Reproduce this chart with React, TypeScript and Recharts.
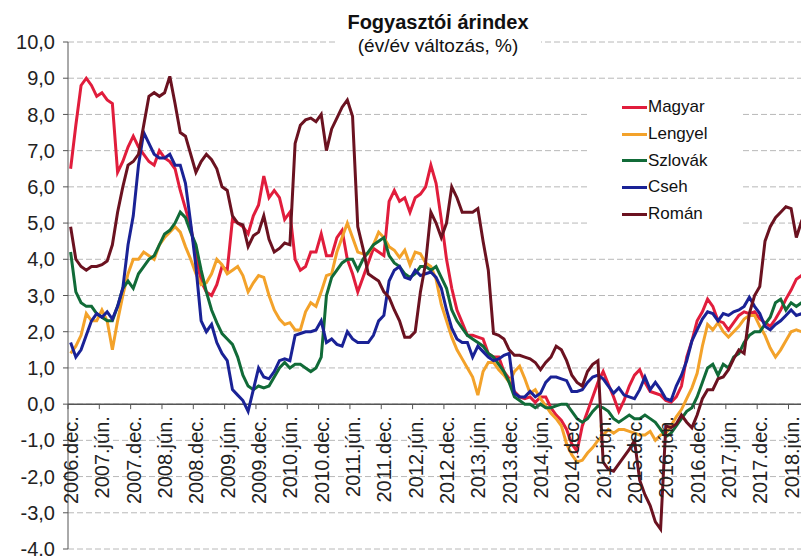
import React from 'react';
import { LineChart, Line, XAxis, YAxis, CartesianGrid, ReferenceLine } from 'recharts';

// monthly y/y CPI, 2006 Dec .. 2018 Oct (143 months)
const MAGYAR = [
  6.5, 7.7, 8.8, 9.0, 8.8, 8.5, 8.6, 8.4, 8.3, 6.4,
  6.7, 7.1, 7.4, 7.1, 6.9, 6.7, 6.6, 7.0, 6.8, 6.7,
  6.5, 5.9, 5.4, 4.9, 4.1, 3.4, 3.1, 3.0, 3.3, 3.8,
  3.7, 5.1, 5.0, 4.9, 4.7, 5.2, 5.5, 6.3, 5.7, 5.9,
  5.7, 5.1, 5.3, 4.0, 3.7, 3.8, 4.2, 4.2, 4.7, 4.1,
  4.1, 4.6, 4.8, 4.0, 3.6, 3.1, 3.5, 3.9, 4.3, 4.2,
  4.1, 5.6, 5.9, 5.6, 5.7, 5.3, 5.7, 5.8, 6.0, 6.6,
  6.1, 5.1, 4.0, 3.2, 2.6, 2.25, 1.9, 1.9, 1.85, 1.8,
  1.4, 1.3, 1.3, 0.9, 0.7, 0.35, 0.2, 0.15, 0.2, 0.05,
  0.2, 0.2, -0.1, -0.3, -0.45, -0.7, -1.1, -1.3, -0.6, -0.2,
  0.2, 0.6, 0.9, 0.55, 0.2, -0.2, 0.1, 0.5, 0.8, 0.95,
  0.6, 0.35, 0.3, 0.25, 0.1, 0.05, 0.2, 0.5, 1.3, 1.75,
  2.3, 2.55, 2.9, 2.7, 2.3, 2.25, 2.05, 2.25, 2.45, 2.55,
  2.5, 2.55, 2.35, 2.25, 2.15, 2.35, 2.6, 2.9, 3.15, 3.45,
  3.55, 3.7, 3.8,
];

const LENGYEL = [
  1.4, 1.6, 1.9, 2.5, 2.3, 2.3, 2.6, 2.3, 1.5, 2.3,
  3.0, 3.6, 4.0, 4.0, 4.2, 4.1, 4.0, 4.4, 4.6, 4.75,
  4.9, 4.75, 4.35, 4.0, 3.6, 3.3, 3.35, 3.6, 4.0, 3.85,
  3.6, 3.7, 3.8, 3.55, 3.1, 3.35, 3.55, 3.5, 3.0, 2.6,
  2.35, 2.2, 2.25, 2.05, 2.05, 2.55, 2.8, 2.7, 3.1, 3.55,
  3.6, 4.2, 4.6, 5.0, 4.6, 4.2, 4.15, 4.15, 4.4, 4.75,
  4.6, 4.35, 4.25, 4.05, 4.25, 3.85, 4.2, 4.15, 3.9, 3.8,
  3.45, 2.75, 2.3, 1.85, 1.5, 1.25, 1.0, 0.75, 0.25, 0.9,
  1.15, 1.15, 0.95, 0.8, 0.6, 0.9, 1.05, 0.7, 0.3, 0.4,
  0.15, -0.05, -0.25, -0.4, -0.6, -1.1, -1.4, -1.6, -1.55, -1.35,
  -1.2, -1.0, -0.85, -0.7, -0.8, -0.7, -0.7, -0.75, -0.8, -0.85,
  -0.85, -0.75, -1.0, -0.85, -0.8, -0.6, -0.35, -0.15, 0.15, 0.45,
  0.85, 1.6, 2.2, 2.05, 2.25, 2.0, 1.85, 2.0, 2.15, 2.35,
  2.45, 2.45, 2.15, 1.9, 1.55, 1.3, 1.5, 1.75, 2.0, 2.05,
  2.0, 1.9, 1.85,
];

const SZLOVAK = [
  4.2, 3.1, 2.8, 2.7, 2.7, 2.5, 2.4, 2.3, 2.3, 2.7,
  3.2, 3.4, 3.2, 3.6, 3.8, 4.0, 4.1, 4.4, 4.7, 4.8,
  5.0, 5.3, 5.15, 4.75, 4.4, 3.7, 3.1, 2.6, 2.25, 1.95,
  1.8, 1.65, 1.3, 0.8, 0.5, 0.4, 0.5, 0.45, 0.5, 0.75,
  1.0, 1.15, 1.0, 1.1, 1.1, 1.0, 0.9, 1.0, 1.3, 3.0,
  3.5, 3.7, 3.9, 4.0, 4.0, 3.7, 4.0, 4.2, 4.4, 4.5,
  4.6, 4.1, 3.9, 3.8, 3.6, 3.5, 3.6, 3.8, 3.8, 3.7,
  3.8, 3.5, 3.2, 2.6, 2.3, 2.1, 1.9, 1.8, 1.7, 1.6,
  1.4, 1.3, 1.1, 0.9, 0.6, 0.2, 0.1, 0.0, 0.0, -0.1,
  0.0, -0.1, -0.1, -0.05, 0.0, 0.0, -0.2, -0.4, -0.5, -0.4,
  -0.2, -0.05, -0.1, -0.2, -0.4, -0.5, -0.4, -0.3, -0.4, -0.4,
  -0.3, -0.4, -0.5, -0.7, -0.9, -0.8, -0.6, -0.4, -0.2, -0.1,
  0.2, 0.6, 1.0, 1.1, 0.8, 1.1, 1.0, 1.3, 1.4, 1.7,
  1.9, 2.0, 2.0, 2.2, 2.4, 2.8, 2.9, 2.6, 2.8, 2.7,
  2.8, 2.7, 2.55,
];

const CSEH = [
  1.7, 1.3, 1.5, 1.9, 2.3, 2.5, 2.4, 2.55, 2.35, 2.7,
  3.2, 4.4, 5.2, 6.6, 7.5, 7.2, 6.9, 6.8, 6.8, 6.9,
  6.6, 6.6, 6.1, 5.0, 3.8, 2.3, 2.0, 2.2, 1.7, 1.4,
  1.2, 0.4, 0.25, 0.1, -0.2, 0.4, 1.0, 0.75, 0.7, 0.9,
  1.2, 1.25, 1.2, 1.9, 1.95, 2.0, 2.0, 2.05, 2.3, 1.7,
  1.8, 1.65, 1.6, 2.0, 1.8, 1.7, 1.7, 1.7, 1.9, 2.3,
  2.45, 3.4, 3.7, 3.8, 3.5, 3.45, 3.7, 3.55, 3.6, 3.65,
  3.5, 3.2, 2.6, 2.1, 1.8, 1.7, 1.7, 1.3, 1.6, 1.45,
  1.3, 1.2, 1.25, 1.35, 1.4, 0.3, 0.2, 0.2, 0.35, 0.2,
  0.3, 0.6, 0.75, 0.75, 0.7, 0.65, 0.35, 0.35, 0.4, 0.6,
  0.75, 0.8, 0.7, 0.5, 0.3, 0.45, 0.25, 0.2, 0.15, 0.4,
  0.75, 0.4, 0.6, 0.4, 0.15, 0.1, 0.5, 0.8, 1.2, 1.75,
  2.05, 2.35, 2.55, 2.5, 2.3, 2.5, 2.45, 2.55, 2.6, 2.7,
  2.95, 2.7, 2.5, 2.15, 2.05, 2.2, 2.3, 2.45, 2.6, 2.45,
  2.5, 2.4, 2.3,
];

const ROMAN = [
  4.9, 4.0, 3.8, 3.7, 3.8, 3.8, 3.85, 3.95, 4.4, 5.3,
  6.0, 6.6, 6.7, 6.9, 7.7, 8.5, 8.6, 8.5, 8.6, 9.05,
  8.3, 7.5, 7.4, 6.9, 6.4, 6.7, 6.9, 6.75, 6.5, 6.0,
  5.9, 5.2, 5.0, 4.95, 4.35, 4.65, 4.75, 5.2, 4.55, 4.2,
  4.3, 4.45, 4.4, 7.2, 7.7, 7.85, 7.9, 7.8, 8.0, 7.0,
  7.6, 7.9, 8.2, 8.4, 7.95, 4.9, 4.3, 3.6, 3.5, 3.4,
  3.1, 2.95, 2.6, 2.3, 1.85, 1.85, 2.0, 3.1, 3.9, 5.3,
  5.0, 4.6, 5.0, 6.0, 5.7, 5.3, 5.3, 5.3, 5.4, 4.5,
  3.7, 1.95, 1.9, 1.8, 1.5, 1.35, 1.35, 1.3, 1.25, 1.15,
  0.95, 1.15, 1.3, 1.6, 1.5, 1.2, 0.8, 0.6, 0.5, 0.9,
  1.1, 1.2, -1.6, -1.8, -1.85, -1.65, -1.45, -1.25, -1.0, -2.1,
  -2.5, -2.8, -3.25, -3.45, -0.6, -0.65, -0.55, -0.3, -0.5, -0.65,
  -0.3, 0.15, 0.4, 0.4, 0.7, 0.75, 0.95, 1.25, 1.5, 1.4,
  2.5, 3.0, 3.25, 4.5, 4.9, 5.15, 5.3, 5.45, 5.4, 4.6,
  5.05, 5.0, 4.5,
];

const X_TICK_LABELS = [
  '2006.dec.', '2007.jún.', '2007.dec.', '2008.jún.', '2008.dec.', '2009.jún.',
  '2009.dec.', '2010.jún.', '2010.dec.', '2011.jún.', '2011.dec.', '2012.jún.',
  '2012.dec.', '2013.jún.', '2013.dec.', '2014.jún.', '2014.dec.', '2015.jún.',
  '2015.dec.', '2016.jún.', '2016.dec.', '2017.jún.', '2017.dec.', '2018.jún.',
];

const Y_TICKS = [-4, -3, -2, -1, 0, 1, 2, 3, 4, 5, 6, 7, 8, 9, 10];

const SERIES = [
  { key: 'magyar', name: 'Magyar', color: '#e11d3c', values: MAGYAR },
  { key: 'lengyel', name: 'Lengyel', color: '#f3a22a', values: LENGYEL },
  { key: 'szlovak', name: 'Szlovák', color: '#116b38', values: SZLOVAK },
  { key: 'cseh', name: 'Cseh', color: '#1a2296', values: CSEH },
  { key: 'roman', name: 'Román', color: '#6b1220', values: ROMAN },
];

const data = MAGYAR.map((_, i) => {
  const row: Record<string, number> = { i };
  SERIES.forEach((s) => {
    row[s.key] = s.values[i];
  });
  return row;
});

// category boundaries every 6 months, labels sit on them
const xTicks = X_TICK_LABELS.map((_, k) => k * 6 - 0.5);

const FONT = 'Arial, "Liberation Sans", Helvetica, sans-serif';
const TOP = 34;
const PLOT_H = 507;
const ZERO_Y = TOP + (PLOT_H * 10) / 14;

const XTick = (props: any) => {
  const { x, payload } = props;
  const label = X_TICK_LABELS[Math.round((payload.value + 0.5) / 6)];
  const tx = x + 10;
  const ty = ZERO_Y + 12;
  return (
    <g>
      <line x1={x} y1={ZERO_Y} x2={x} y2={ZERO_Y + 5} stroke="#555" />
      <text
        x={tx}
        y={ty}
        transform={`rotate(-90 ${tx} ${ty})`}
        textAnchor="end"
        fontSize={20}
        fill="#222"
        fontFamily={FONT}
      >
        {label}
      </text>
    </g>
  );
};

const App = () => {
  return (
    <div style={{ position: 'relative', width: 801, height: 548, overflow: 'hidden', background: '#fff' }}>
      <LineChart width={804} height={548} data={data} margin={{ top: TOP, right: 0, bottom: 0, left: 0 }}>
        <CartesianGrid vertical={false} stroke="#b8b8b8" strokeDasharray="6 3" />
        <XAxis
          dataKey="i"
          type="number"
          domain={[-0.5, 142]}
          ticks={xTicks}
          interval={0}
          axisLine={false}
          tickLine={false}
          height={7}
          tick={<XTick />}
        />
        <YAxis
          type="number"
          domain={[-4, 10]}
          ticks={Y_TICKS}
          interval={0}
          width={60}
          tickSize={5}
          tickMargin={8}
          axisLine={{ stroke: '#555' }}
          tickLine={{ stroke: '#555' }}
          tickFormatter={(v: number) => v.toFixed(1).replace('.', ',')}
          tick={{ fontSize: 20, fill: '#222', fontFamily: FONT }}
        />
        <ReferenceLine y={0} stroke="#555" strokeWidth={1.5} />
        {SERIES.map((s) => (
          <Line
            key={s.key}
            type="linear"
            dataKey={s.key}
            name={s.name}
            stroke={s.color}
            strokeWidth={3}
            dot={false}
            isAnimationActive={false}
          />
        ))}
      </LineChart>

      <div
        style={{
          position: 'absolute',
          left: 327,
          top: 3,
          width: 206,
          background: '#fff',
          textAlign: 'center',
          fontFamily: FONT,
          color: '#111',
        }}
      >
        <div style={{ fontSize: 20, fontWeight: 'bold', lineHeight: '23px' }}>Fogyasztói árindex</div>
        <div style={{ fontSize: 19, lineHeight: '23px' }}>(év/év változás, %)</div>
      </div>

      <div
        style={{
          position: 'absolute',
          left: 580,
          top: 80,
          width: 154,
          height: 148,
          background: '#fff',
          paddingTop: 6,
          boxSizing: 'border-box',
          fontFamily: FONT,
        }}
      >
        {SERIES.map((s) => (
          <div key={s.key} style={{ display: 'flex', alignItems: 'center', height: 26.7 }}>
            <span style={{ display: 'inline-block', width: 25, height: 3, marginLeft: 34, background: s.color }} />
            <span style={{ fontSize: 17, color: '#111', marginLeft: 1 }}>{s.name}</span>
          </div>
        ))}
      </div>
    </div>
  );
};

export default App;
